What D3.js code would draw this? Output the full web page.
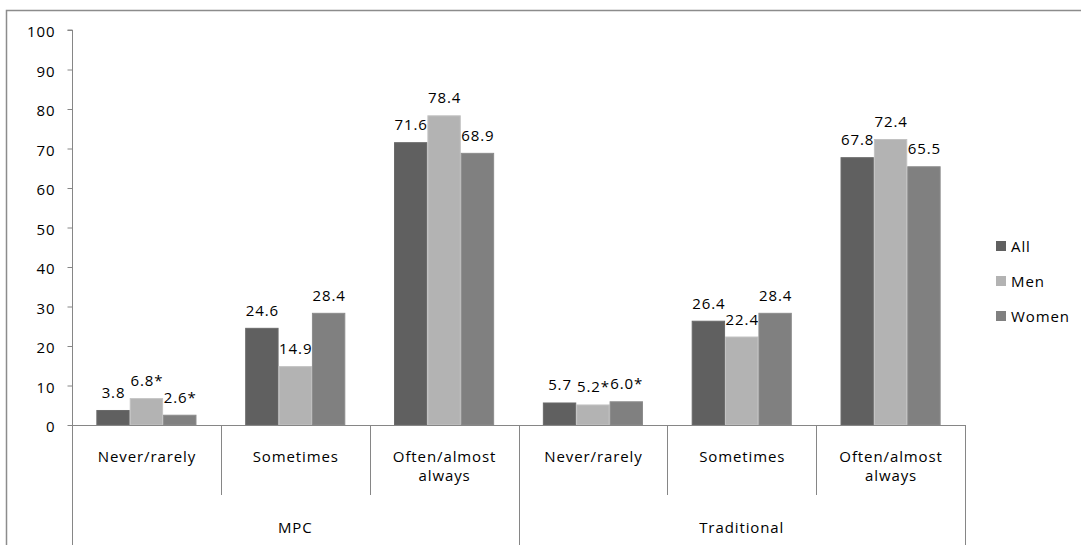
<!DOCTYPE html>
<html>
<head>
<meta charset="utf-8">
<script src="https://cdn.jsdelivr.net/npm/d3@7"></script>
<style>
  html, body { margin: 0; padding: 0; background: #fff; }
  svg { display: block; }
  text { font-family: "Open Sans", Lato, sans-serif; fill: #000; letter-spacing: 0.9px; }
</style>
</head>
<body>
<svg id="chart" width="1081" height="545"></svg>
<script>
const groups = ["MPC", "Traditional"];
const subCategories = ["Never/rarely", "Sometimes", "Often/almost always"];
const seriesNames = ["All", "Men", "Women"];
const allValues   = [3.8, 24.6, 71.6, 5.7, 26.4, 67.8];
const menValues   = [6.8, 14.9, 78.4, 5.2, 22.4, 72.4];
const womenValues = [2.6, 28.4, 68.9, 6.0, 28.4, 65.5];
const menLabels   = ["6.8*", "14.9", "78.4", "5.2*", "22.4", "72.4"];
const womenLabels = ["2.6*", "28.4", "68.9", "6.0*", "28.4", "65.5"];
const allLabels   = ["3.8", "24.6", "71.6", "5.7", "26.4", "67.8"];
const yTicks = [0, 10, 20, 30, 40, 50, 60, 70, 80, 90, 100];
const colors = ["#606060", "#b3b3b3", "#808080"];
const strokeColors = ["#6a6a6a", "#c2c2c2", "#8c8c8c"];

const categories = [];
groups.forEach(g => subCategories.forEach(s => categories.push(g + "|" + s)));
const seriesValues = [allValues, menValues, womenValues];
const seriesLabels = [allLabels, menLabels, womenLabels];

const FS = 15;
const svg = d3.select("#chart");
const mLeft = 72, mRight = 965, mTop = 30, mBottom = 425;

// outer border
svg.append("path")
  .attr("d", `M6.5,545 L6.5,10.5 L1081,10.5`)
  .attr("fill", "none").attr("stroke", "#8c8c8c").attr("stroke-width", 1.5);

const x0 = d3.scaleBand().domain(categories).range([mLeft, mRight]).paddingInner(0).paddingOuter(0);
const x1 = d3.scaleBand().domain(seriesNames).range([0, x0.bandwidth()]).paddingInner(0).paddingOuter(0.73);
const y = d3.scaleLinear().domain([0, 100]).range([mBottom, mTop]);

// y axis
const yAxis = d3.axisLeft(y).tickValues(yTicks).tickSize(5).tickPadding(12);
const yg = svg.append("g").attr("transform", `translate(${mLeft + 0.5},0)`).call(yAxis);
yg.select(".domain").attr("stroke", "#868686").attr("d", `M-5,${mTop}H0V${mBottom}`);
yg.selectAll(".tick line").attr("stroke", "#868686");
yg.selectAll(".tick text").attr("font-size", FS).attr("font-family", "'Open Sans', sans-serif")
  .attr("fill", "#000").attr("dy", "0.45em");

// bars
seriesNames.forEach((s, si) => {
  const g = svg.append("g");
  g.selectAll("rect").data(categories).enter().append("rect")
    .attr("x", (c) => x0(c) + x1(s) + 0.5)
    .attr("width", x1.bandwidth() - 1)
    .attr("y", (c, i) => y(seriesValues[si][i]) + 0.5)
    .attr("height", (c, i) => mBottom - y(seriesValues[si][i]) - 0.5)
    .attr("fill", colors[si])
    .attr("stroke", strokeColors[si])
    .attr("stroke-width", 1);
  g.selectAll("text").data(categories).enter().append("text")
    .attr("x", (c) => x0(c) + x1(s) + x1.bandwidth() / 2 + 0.5)
    .attr("y", (c, i) => y(seriesValues[si][i]) - 12)
    .attr("text-anchor", "middle")
    .attr("font-size", FS)
    .text((c, i) => seriesLabels[si][i]);
});

// x axis line
svg.append("line").attr("x1", mLeft).attr("x2", mRight).attr("y1", mBottom + 0.5).attr("y2", mBottom + 0.5)
  .attr("stroke", "#868686");

// category separators
categories.forEach((c, i) => {
  const xx = Math.round(x0(c)) + 0.5;
  const isGroupEdge = i % subCategories.length === 0;
  svg.append("line").attr("x1", xx).attr("x2", xx).attr("y1", mBottom).attr("y2", isGroupEdge ? 545 : 495)
    .attr("stroke", "#868686");
});
svg.append("line").attr("x1", mRight + 0.5).attr("x2", mRight + 0.5).attr("y1", mBottom).attr("y2", 545)
  .attr("stroke", "#868686");

// sub-category labels
categories.forEach((c) => {
  const sub = c.split("|")[1];
  const cx = x0(c) + x0.bandwidth() / 2 + 0.5;
  const t = svg.append("text").attr("x", cx).attr("y", 462).attr("text-anchor", "middle").attr("font-size", FS);
  if (sub === "Often/almost always") {
    t.append("tspan").attr("x", cx).attr("y", 462).text("Often/almost");
    t.append("tspan").attr("x", cx).attr("y", 481).text("always");
  } else {
    t.text(sub);
  }
});

// group labels
groups.forEach((g, gi) => {
  const first = x0(categories[gi * 3]);
  const last = x0(categories[gi * 3 + 2]) + x0.bandwidth();
  svg.append("text").attr("x", (first + last) / 2).attr("y", 533).attr("text-anchor", "middle")
    .attr("font-size", FS).text(g);
});

// legend
const legend = svg.append("g");
seriesNames.forEach((s, si) => {
  const ly = 246 + si * 35;
  legend.append("rect").attr("x", 996).attr("y", ly - 5).attr("width", 10).attr("height", 10).attr("fill", colors[si]);
  legend.append("text").attr("x", 1011).attr("y", ly + 5.5).attr("font-size", FS).text(s);
});
</script>
</body>
</html>
